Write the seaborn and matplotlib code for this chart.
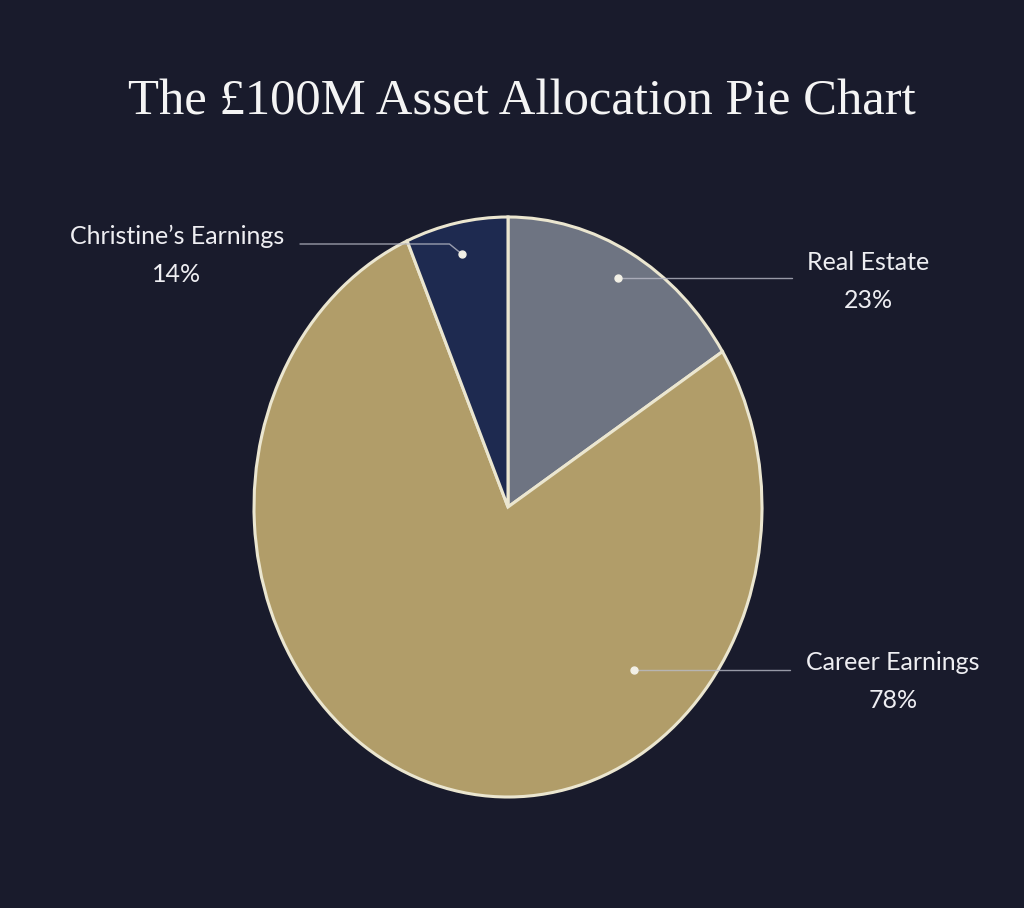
import numpy as np
import matplotlib
matplotlib.use('Agg')
import matplotlib.pyplot as plt
import seaborn as sns

# slice shares as drawn in the picture, and the label texts it prints
categories = ['Real Estate', 'Career Earnings', "Christine’s Earnings"]
slice_share = [16.0, 77.5, 6.5]
pct_labels = ['23%', '78%', '14%']
colors = ['#6e7482', '#b19d69', '#1e2a50']

bg = '#191b2c'
edge = '#ebe6d0'

sns.set_theme(style='dark')
plt.rcParams['font.family'] = ['Lato', 'DejaVu Sans']

W, H = 1024, 908
cx, cy = 508, 507      # pie centre in pixels (from top)
rx, ry = 254, 290      # horizontal / vertical radius in pixels


def px(x, y):
    # pixel (from top-left) -> data units with pie radius 1
    return (x - cx) / rx, (cy - y) / ry


fig = plt.figure(figsize=(W / 100, H / 100), dpi=100, facecolor=bg)
ax = fig.add_axes([0, 0, 1, 1])
ax.set_facecolor(bg)

wedges, _ = ax.pie(slice_share, colors=colors, startangle=90, counterclock=False,
                   wedgeprops={'edgecolor': edge, 'linewidth': 2.2})
ax.set_aspect('auto')
ax.set_xlim(px(0, 0)[0], px(W, 0)[0])
ax.set_ylim(px(0, H)[1], px(0, 0)[1])
ax.axis('off')

# leader dots: angle inside each wedge and radius fraction
dot_place = [(None, 0.9), (-48.6, 0.75), (None, 0.89)]
label_pos = [(868, 262), (893, 663), (177, 236)]
line_end = [792, 790, 300]

for w, (ang, r), (tx, ty), lx, name, pct in zip(wedges, dot_place, label_pos, line_end,
                                                categories, pct_labels):
    if ang is None:
        ang = (w.theta1 + w.theta2) / 2
    a = np.deg2rad(ang)
    dx, dy = r * np.cos(a), r * np.sin(a)
    ex = px(lx, 0)[0]
    if dx < 0:
        # small bend up before running left
        ky = px(0, ty + 8)[1]
        kx = dx - 0.05
        ax.plot([dx, kx, ex], [dy, ky, ky], color='#b8bac6', lw=1, alpha=0.8, clip_on=False)
    else:
        ax.plot([dx, ex], [dy, dy], color='#b8bac6', lw=1, alpha=0.8, clip_on=False)
    ax.plot(dx, dy, 'o', color='#f2f0e6', ms=5, clip_on=False)
    ax.text(*px(tx, ty), name, color='#eeeef2', fontsize=18, ha='center', va='center')
    ax.text(*px(tx, ty + 38), pct, color='#eeeef2', fontsize=18, ha='center', va='center')

fig.text(522 / W, 1 - 102 / H, 'The £100M Asset Allocation Pie Chart', color='#f4f4f4',
         fontsize=36.5, family=['Liberation Serif', 'DejaVu Serif'], ha='center', va='center')

fig.savefig('out.png', dpi=100, facecolor=bg)
